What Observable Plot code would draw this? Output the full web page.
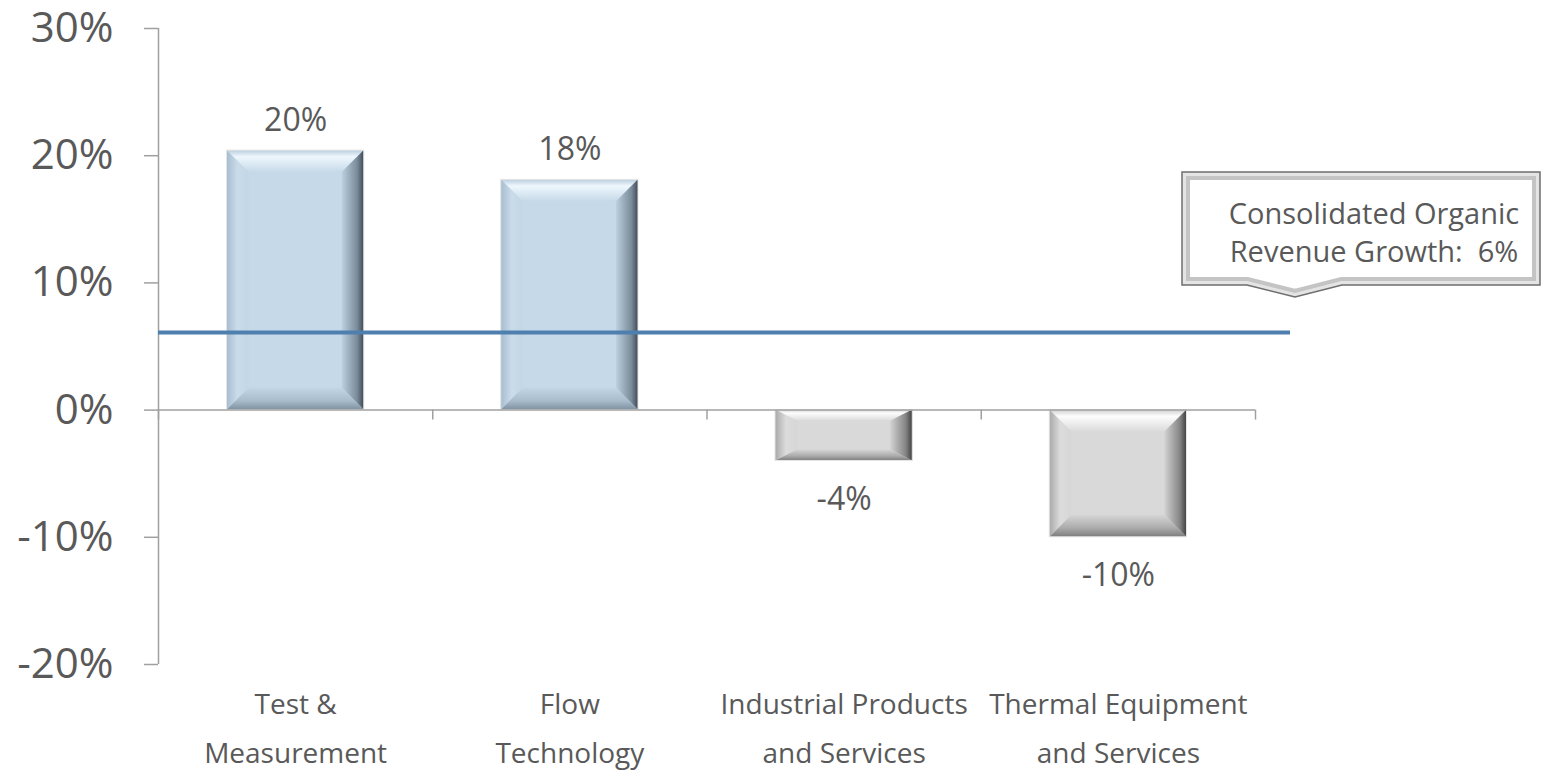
<!DOCTYPE html>
<html>
<head>
<meta charset="utf-8">
<script src="https://cdn.jsdelivr.net/npm/d3@7"></script>
<script src="https://cdn.jsdelivr.net/npm/@observablehq/plot@0.6"></script>
<style>
  body { margin: 0; background: #ffffff; }
  #chart svg { overflow: visible; }
</style>
</head>
<body>
<div id="chart"></div>
<script>
// ---- data ----
const categories = [
  "Test &\nMeasurement",
  "Flow\nTechnology",
  "Industrial Products\nand Services",
  "Thermal Equipment\nand Services"
];
const growth = [20.4, 18.1, -4.0, -10.0];
const valueLabels = ["20%", "18%", "-4%", "-10%"];
const consolidatedGrowth = 6.1;
const calloutLines = ["Consolidated Organic", "Revenue Growth:  6%"];
const yTicks = [-20, -10, 0, 10, 20, 30];
const categoryBoundaries = [0, 1, 2, 3, 4];
const categoryCenters = [0.5, 1.5, 2.5, 3.5];

const data = categories.map((c, i) => ({i, category: c, value: growth[i], label: valueLabels[i]}));

const textColor = "#595959";
const axisColor = "#a0a0a0";
const font = "'Open Sans', sans-serif";

// callout drawn through the scales (anchored to the consolidated line)
function callout(index, scales, values, dimensions) {
  const xr = scales.x(4);
  const yl = scales.y(consolidatedGrowth);
  const left = xr - 73, right = xr + 285, top = yl - 160, bottom = yl - 47;
  const tipX = xr + 40, tipY = yl - 35, baseL = xr - 8, baseR = xr + 87;
  const g = d3.create("svg:g");
  const p = `M${left},${top}H${right}V${bottom}H${baseR}L${tipX},${tipY}L${baseL},${bottom}H${left}Z`;
  const defs = g.append("defs");
  defs.append("clipPath").attr("id", "calloutClip").append("path").attr("d", p);
  g.append("path").attr("d", p).attr("fill", "#ffffff");
  g.append("path").attr("d", p).attr("fill", "none").attr("stroke", "#c4c4c4").attr("stroke-width", 16).attr("clip-path", "url(#calloutClip)");
  g.append("path").attr("d", p).attr("fill", "none").attr("stroke", "#e4e4e4").attr("stroke-width", 8).attr("clip-path", "url(#calloutClip)");
  g.append("path").attr("d", p).attr("fill", "none").attr("stroke", "#6e6e6e").attr("stroke-width", 1.5);
  const cx = xr + 119;
  calloutLines.forEach((line, k) => {
    g.append("text")
      .attr("x", cx).attr("y", top + 52 + k * 38)
      .attr("text-anchor", "middle")
      .attr("fill", textColor)
      .attr("font-size", 29)
      .attr("font-family", font)
      .style("white-space", "pre")
      .text(line);
  });
  return g.node();
}

const plot = Plot.plot({
  width: 1553,
  height: 781,
  marginTop: 28,
  marginBottom: 117,
  marginLeft: 158,
  marginRight: 298,
  style: {fontFamily: font, background: "#ffffff", color: textColor},
  x: {type: "linear", domain: [0, 4], label: null},
  y: {domain: [-20, 30], label: null},
  marks: [
    Plot.rectY(data, {
      x1: "i", x2: d => d.i + 1, y: "value",
      insetLeft: 68.5, insetRight: 68.5,
      fill: d => d.value >= 0 ? "#c6d9e8" : "#d9d9d9"
    }),
    Plot.ruleY([0], {stroke: axisColor, strokeWidth: 1.5}),
    Plot.ruleX([0], {stroke: axisColor, strokeWidth: 1.5}),
    Plot.ruleX(categoryBoundaries, {x: d => d, y1: 0, y2: 0, insetBottom: -10, stroke: axisColor, strokeWidth: 1.5}),
    Plot.axisY({
      ticks: yTicks, tickFormat: d => d + "%", tickSize: 14, tickPadding: 31, label: null,
      fontSize: 42, stroke: axisColor, color: textColor, strokeWidth: 1.5
    }),
    Plot.axisX({
      ticks: categoryCenters, tickSize: 0, tickPadding: 15, label: null,
      tickFormat: d => categories[Math.floor(d)],
      fontSize: 28, lineHeight: 1.75, color: textColor
    }),
    Plot.text(data.filter(d => d.value >= 0), {
      x: d => d.i + 0.5, y: "value", text: "label",
      lineAnchor: "bottom", dy: -20, fontSize: 32, fill: textColor
    }),
    Plot.text(data.filter(d => d.value < 0), {
      x: d => d.i + 0.5, y: "value", text: "label",
      lineAnchor: "top", dy: 26, fontSize: 32, fill: textColor
    }),
    Plot.ruleY([consolidatedGrowth], {x1: 0, x2: 4, insetRight: -35, stroke: "#4f7fae", strokeWidth: 4}),
    callout
  ]
});

document.getElementById("chart").appendChild(plot);

// ---- bevel styling on the library-drawn bars ----
const svg = d3.select(plot);
const defs = svg.insert("defs", ":first-child");
function grad(id, dir, stops) {
  const [x1, y1, x2, y2] = dir;
  const lg = defs.append("linearGradient").attr("id", id)
    .attr("x1", x1).attr("y1", y1).attr("x2", x2).attr("y2", y2);
  stops.forEach(([o, c]) => lg.append("stop").attr("offset", o).attr("stop-color", c));
}
const palettes = {
  blue: {
    top: [["0", "#b9cddd"], ["0.3", "#eef7fd"], ["1", "#c6d9e8"]],
    left: [["0", "#a6bccf"], ["0.5", "#cadcea"], ["1", "#c3d6e5"]],
    right: [["0", "#3f4954"], ["0.3", "#7a8b9a"], ["1", "#bcd0e0"]],
    bottom: [["0", "#7e91a1"], ["0.4", "#a9bccc"], ["1", "#c3d6e5"]]
  },
  gray: {
    top: [["0", "#cfcfcf"], ["0.3", "#fdfdfd"], ["1", "#dadada"]],
    left: [["0", "#a8a8a8"], ["0.5", "#dcdcdc"], ["1", "#d6d6d6"]],
    right: [["0", "#404040"], ["0.3", "#858585"], ["1", "#d2d2d2"]],
    bottom: [["0", "#7c7c7c"], ["0.4", "#ababab"], ["1", "#d6d6d6"]]
  }
};
const dirs = {top: [0, 0, 0, 1], left: [0, 0, 1, 0], right: [1, 0, 0, 0], bottom: [0, 1, 0, 0]};
for (const k of Object.keys(palettes)) for (const s of Object.keys(dirs)) grad(`bv-${k}-${s}`, dirs[s], palettes[k][s]);

const rects = svg.selectAll('g[aria-label="rect"] rect').nodes();
rects.forEach((r, idx) => {
  const x = +r.getAttribute("x"), y = +r.getAttribute("y");
  const w = +r.getAttribute("width"), h = +r.getAttribute("height");
  const pal = growth[idx] >= 0 ? "blue" : "gray";
  const b = Math.min(22, w / 4), bv = Math.min(22, h * 0.22);
  const parent = d3.select(r.parentNode);
  const polys = {
    top: [[x, y], [x + w, y], [x + w - b, y + bv], [x + b, y + bv]],
    bottom: [[x, y + h], [x + w, y + h], [x + w - b, y + h - bv], [x + b, y + h - bv]],
    left: [[x, y], [x + b, y + bv], [x + b, y + h - bv], [x, y + h]],
    right: [[x + w, y], [x + w - b, y + bv], [x + w - b, y + h - bv], [x + w, y + h]]
  };
  for (const s of Object.keys(polys)) {
    parent.append("polygon")
      .attr("points", polys[s].map(p => p.join(",")).join(" "))
      .attr("fill", `url(#bv-${pal}-${s})`);
  }
  parent.append("rect").attr("x", x).attr("y", y).attr("width", w).attr("height", h)
    .attr("fill", "none").attr("stroke", "#e6e6e6").attr("stroke-width", 1);
});
</script>
</body>
</html>
